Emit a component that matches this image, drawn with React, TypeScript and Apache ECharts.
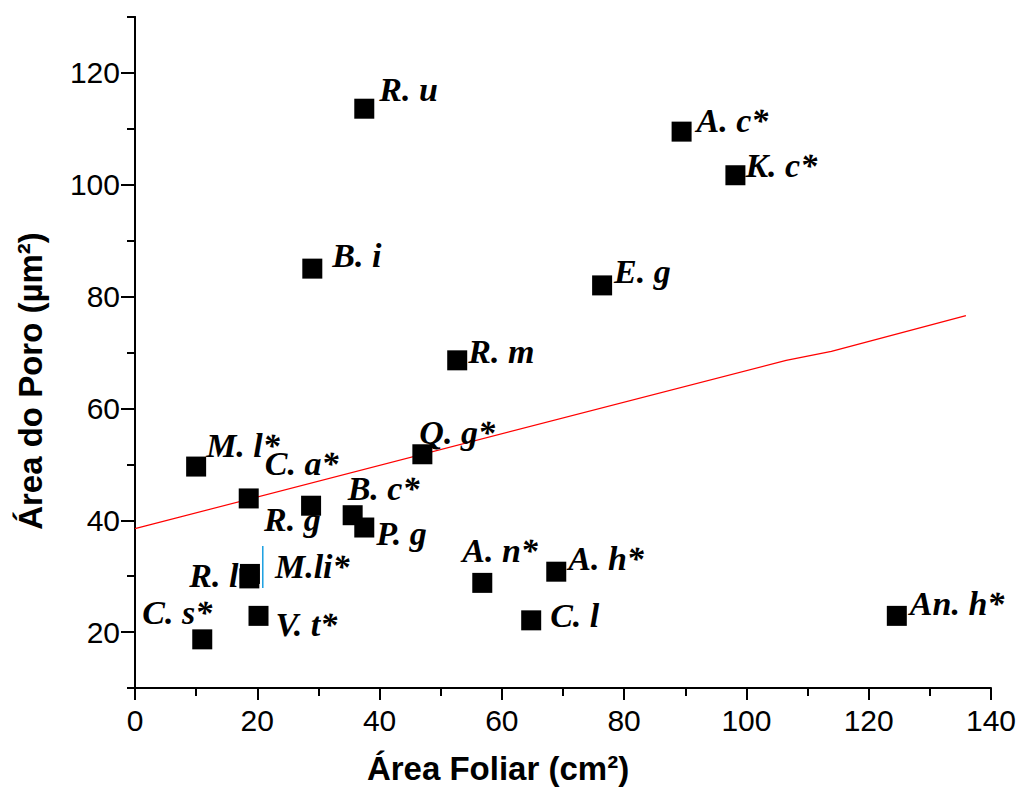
import React, { useEffect, useRef } from "react";
import * as echarts from "echarts";

// Species (data labels)
const species = ["R. u", "A. c*", "K. c*", "B. i", "E. g", "R. m", "Q. g*", "M. l*", "C. a*", "R. g", "B. c*", "P. g", "R. l", "M.li*", "C. s*", "V. t*", "A. n*", "A. h*", "C. l", "An. h*"];
// Área Foliar (cm²)
const areaFoliar = [37.5, 89.4, 98.2, 29.0, 76.4, 52.7, 47.0, 10.0, 18.6, 28.8, 35.6, 37.5, 18.7, 18.8, 11.0, 20.2, 56.8, 68.9, 64.8, 124.6];
// Área do Poro (µm²)
const areaPoro = [113.6, 109.5, 101.7, 85.0, 82.0, 68.6, 51.8, 49.6, 43.9, 42.6, 40.9, 38.7, 29.6, 30.4, 18.7, 22.9, 28.8, 30.8, 22.1, 22.9];

// Regression line (as drawn)
const fitX = [0, 106.5, 113.9, 135.9];
const fitY = [38.5, 68.6, 70.2, 76.6];

// Small cyan marker line present in the figure
const cursorX = [20.9, 20.9];
const cursorY = [35.4, 27.9];

// Tick values
const xTicks = [0, 20, 40, 60, 80, 100, 120, 140];
const yMajorTicks = [20, 40, 60, 80, 100, 120];

// Label placement (style): [align, dx, dy] relative to the marker centre
const labelPlacement: [string, number, number][] = [
  ["left", 15, -19],
  ["left", 15, -11],
  ["left", 10, -10],
  ["left", 20, -13],
  ["left", 12, -14],
  ["left", 11, -9],
  ["left", -3, -22],
  ["left", 10, -21],
  ["left", 16, -35],
  ["left", -47, 14],
  ["left", -5, -27],
  ["left", 12, 6],
  ["right", -11, -3],
  ["left", 25, -7],
  ["left", -60, -27],
  ["left", 17, 9],
  ["left", -20, -32],
  ["left", 12, -13],
  ["left", 19, -5],
  ["left", 13, -12],
];

const SANS = "'Liberation Sans', Arial, sans-serif";
const SERIF = "'Liberation Serif', 'Times New Roman', serif";

export default function App() {
  const ref = useRef<HTMLDivElement>(null);

  useEffect(() => {
    if (!ref.current) return;
    const chart = echarts.init(ref.current, undefined, { renderer: "svg" });

    const points = species.map((name, i) => {
      const [align, dx, dy] = labelPlacement[i];
      return {
        name,
        value: [areaFoliar[i], areaPoro[i]],
        label: {
          show: true,
          formatter: name,
          position: "inside",
          align,
          verticalAlign: "middle",
          offset: [dx, dy],
          color: "#000",
          fontFamily: SERIF,
          fontWeight: "bold",
          fontStyle: "italic",
          fontSize: 34,
        },
      };
    });

    const axisLine = { show: true, lineStyle: { color: "#000", width: 2 } };

    chart.setOption({
      animation: false,
      backgroundColor: "#fff",
      grid: { left: 135, right: 26, top: 17, bottom: 99, containLabel: false },
      xAxis: {
        type: "value",
        min: 0,
        max: 140,
        interval: 20,
        axisLine: { ...axisLine, onZero: false },
        axisTick: { show: true, length: 12, lineStyle: { color: "#000", width: 2 } },
        minorTick: { show: true, splitNumber: 2, length: 8, lineStyle: { color: "#000", width: 2 } },
        splitLine: { show: false },
        axisLabel: {
          color: "#000",
          fontFamily: SANS,
          fontSize: 30,
          margin: 17,
          formatter: (v: number) => (xTicks.includes(v) ? String(v) : ""),
        },
      },
      yAxis: [
        {
          type: "value",
          min: 10,
          max: 130,
          interval: 10,
          axisLine: { ...axisLine, onZero: false },
          axisTick: { show: true, length: 8, lineStyle: { color: "#000", width: 2 } },
          splitLine: { show: false },
          axisLabel: { show: false },
        },
        {
          type: "value",
          position: "left",
          min: 10,
          max: 130,
          axisLine: { ...axisLine, onZero: false },
          axisTick: {
            show: true,
            length: 14,
            customValues: yMajorTicks,
            lineStyle: { color: "#000", width: 2 },
          },
          splitLine: { show: false },
          axisLabel: {
            show: true,
            customValues: yMajorTicks,
            color: "#000",
            fontFamily: SANS,
            fontSize: 30,
            margin: 15,
          },
        },
      ],
      graphic: [
        {
          type: "text",
          x: 498,
          y: 768,
          style: {
            text: "Área Foliar (cm²)",
            fill: "#000",
            font: `bold 33px ${SANS}`,
            textAlign: "center",
            textVerticalAlign: "middle",
            align: "center",
            verticalAlign: "middle",
          },
        },
        {
          type: "text",
          x: 30,
          y: 381,
          rotation: Math.PI / 2,
          style: {
            text: "Área do Poro (µm²)",
            fill: "#000",
            font: `bold 33px ${SANS}`,
            textAlign: "center",
            textVerticalAlign: "middle",
            align: "center",
            verticalAlign: "middle",
          },
        },
      ],
      series: [
        {
          type: "line",
          data: fitX.map((x, i) => [x, fitY[i]]),
          showSymbol: false,
          symbol: "none",
          lineStyle: { color: "#ff0000", width: 1.2 },
          z: 1,
          silent: true,
        },
        {
          type: "line",
          data: cursorX.map((x, i) => [x, cursorY[i]]),
          showSymbol: false,
          symbol: "none",
          lineStyle: { color: "#1a9fe0", width: 1.5 },
          z: 3,
          silent: true,
        },
        {
          type: "scatter",
          symbol: "rect",
          symbolSize: 20,
          itemStyle: { color: "#000", opacity: 1 },
          data: points,
          z: 2,
        },
      ],
    });

    return () => chart.dispose();
  }, []);

  return (
    <div
      ref={ref}
      style={{ position: "fixed", left: 0, top: 0, width: 1019, height: 787, background: "#fff" }}
    />
  );
}
